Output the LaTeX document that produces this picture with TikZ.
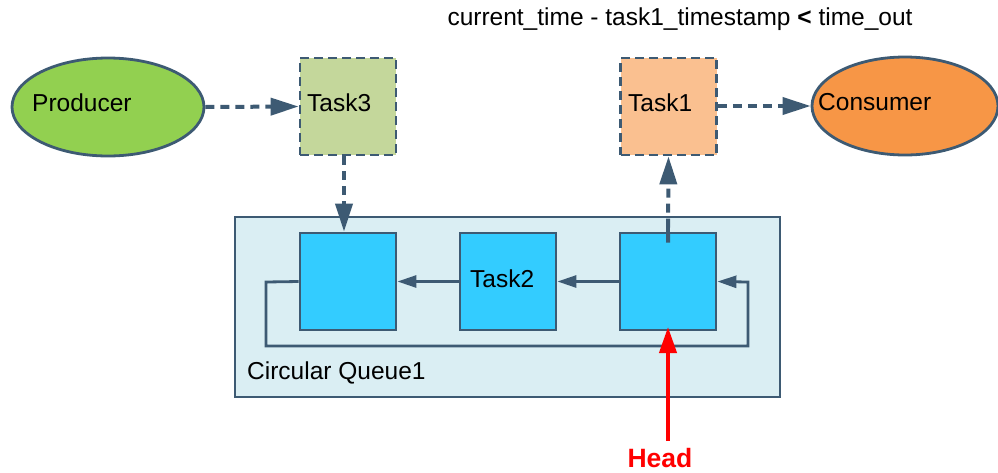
\documentclass[tikz,border=0pt]{standalone}
\usepackage{fontspec}
\setmainfont{Liberation Sans}
\usetikzlibrary{arrows.meta,shapes.geometric}
\definecolor{edge}{HTML}{3D5A73}
\definecolor{prodfill}{HTML}{92D050}
\definecolor{consfill}{HTML}{F79646}
\definecolor{taskthree}{HTML}{C4D79B}
\definecolor{taskone}{HTML}{FAC090}
\definecolor{queuebg}{HTML}{DAEEF3}
\definecolor{slot}{HTML}{33CCFF}
\definecolor{headred}{HTML}{FF0000}
\tikzset{
  actor/.style={ellipse, draw=edge, line width=2.8pt, minimum width=#1, minimum height=98pt, inner sep=0pt},
  taskbox/.style={rectangle, draw=edge, line width=2.8pt, dash pattern=on 9pt off 5pt, minimum width=96pt, minimum height=97pt, inner sep=0pt},
  slotbox/.style={rectangle, draw=edge, fill=slot, line width=2.8pt, minimum width=96pt, minimum height=97pt, inner sep=0pt},
  lbl/.style={font=\fontsize{24.5}{28}\selectfont, inner sep=0pt, anchor=west},
  flow/.style={draw=edge, line width=4pt, dash pattern=on 9pt off 6pt, -{Triangle[length=28pt,width=17pt]}},
  link/.style={draw=edge, line width=2.8pt, -{Triangle[length=19pt,width=12pt]}},
}
\begin{document}
\begin{tikzpicture}[x=1pt,y=-1pt]
\useasboundingbox (0,0) rectangle (998,472);

% container of the ring buffer
\node[rectangle, draw=edge, fill=queuebg, line width=2.8pt, minimum width=545pt, minimum height=180pt, inner sep=0pt] (queue) at (507.5,307) {};
\node[lbl] (qlabel) at (247,373) {Circular Queue1};

% slots
\node[slotbox] (s1) at (348,281.5) {};
\node[slotbox] (s2) at (508,281.5) {};
\node[slotbox] (s3) at (668,281.5) {};
\node[lbl] (s2label) at (470,279) {Task2};

% producer / consumer and tasks
\node[actor=192pt, fill=prodfill] (prod) at (108,107) {};
\node[lbl] (prodlabel) at (32,103) {Producer};
\node[taskbox, fill=taskthree] (t3) at (348,106.5) {};
\node[lbl] (t3label) at (307,103) {Task3};
\node[taskbox, fill=taskone] (t1) at (668.5,106.5) {};
\node[lbl] (t1label) at (628,103) {Task1};
\node[actor=186pt, fill=consfill] (cons) at (905,106) {};
\node[lbl] (conslabel) at (818,102) {Consumer};

% condition text
\node[font=\fontsize{24.5}{28}\selectfont, inner sep=0pt] (cond) at (680,19) {current\_time - task1\_timestamp \textbf{<} time\_out};

% dashed flows
\draw[flow] (prod.east) -- (t3.west);
\draw[flow] (t1.east |- cons.west) -- (cons.west);
\draw[flow] (t3.south -| 344,0) -- (s1.north -| 344,0);
\draw[draw=edge, line width=4pt] (s3.north) -- ++(0,-11);
\draw[flow] ([yshift=-11pt]s3.north) -- (t1.south);

% ring links
\draw[link] (s2.west) -- (s1.east);
\draw[link] (s3.west) -- (s2.east);
\coordinate (la) at (266,282);
\coordinate (lb) at (266,346);
\coordinate (lc) at (748,346);
\coordinate (ld) at (748,282);
\draw[link] (s1.west) -- (la) -- (lb) -- (lc) -- (ld) -- (s3.east);

% head pointer
\node[font=\fontsize{26.5}{28}\selectfont\bfseries, text=headred, inner sep=0pt] (head) at (660,458) {Head};
\coordinate (headtail) at (668,441);
\draw[draw=headred, line width=4pt, -{Triangle[length=26pt,width=17pt]}] (headtail) -- (668,327);
\end{tikzpicture}
\end{document}
